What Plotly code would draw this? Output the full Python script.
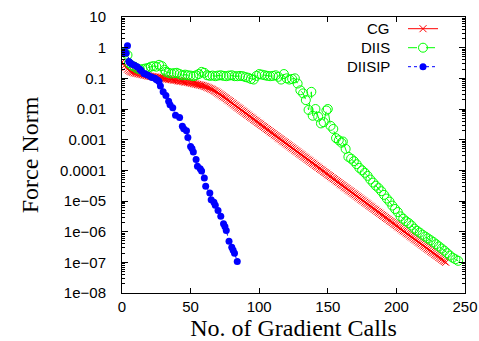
import plotly.graph_objects as go

# ---- data (log10 of force norm) ----
cg_calls = list(range(237))
cg_log10 = [
    -0.47, -0.52, -0.58, -0.64, -0.70, -0.74, -0.77, -0.79, -0.80, -0.82,
    -0.83, -0.84, -0.85, -0.86, -0.87, -0.88, -0.89, -0.90, -0.91, -0.92,
    -0.93, -0.94, -0.94, -0.95, -0.96, -0.96, -0.97, -0.98, -0.98, -0.99,
    -1.00, -1.01, -1.01, -1.02, -1.03, -1.04, -1.04, -1.05, -1.06, -1.06,
    -1.07, -1.08, -1.09, -1.09, -1.10, -1.11, -1.12, -1.12, -1.13, -1.14,
    -1.15, -1.16, -1.17, -1.18, -1.19, -1.20, -1.21, -1.22, -1.23, -1.24,
    -1.26, -1.27, -1.29, -1.31, -1.33, -1.35, -1.37, -1.40, -1.42, -1.45,
    -1.48, -1.51, -1.54, -1.57, -1.60, -1.63, -1.66, -1.70, -1.73, -1.76,
    -1.80, -1.83, -1.87, -1.90, -1.94, -1.97, -2.00, -2.04, -2.07, -2.10,
    -2.14, -2.17, -2.20, -2.24, -2.27, -2.30, -2.34, -2.37, -2.40, -2.44,
    -2.47, -2.50, -2.54, -2.57, -2.60, -2.64, -2.67, -2.70, -2.74, -2.77,
    -2.80, -2.84, -2.87, -2.90, -2.94, -2.97, -3.00, -3.04, -3.07, -3.10,
    -3.14, -3.17, -3.20, -3.24, -3.27, -3.30, -3.34, -3.37, -3.40, -3.44,
    -3.47, -3.50, -3.54, -3.57, -3.60, -3.64, -3.67, -3.70, -3.74, -3.77,
    -3.80, -3.84, -3.87, -3.90, -3.94, -3.97, -4.00, -4.04, -4.07, -4.10,
    -4.14, -4.17, -4.20, -4.24, -4.27, -4.30, -4.34, -4.37, -4.40, -4.44,
    -4.47, -4.50, -4.54, -4.57, -4.60, -4.64, -4.67, -4.70, -4.74, -4.77,
    -4.80, -4.84, -4.87, -4.90, -4.94, -4.97, -5.00, -5.04, -5.07, -5.10,
    -5.14, -5.17, -5.20, -5.24, -5.27, -5.30, -5.34, -5.37, -5.40, -5.44,
    -5.47, -5.50, -5.54, -5.57, -5.60, -5.64, -5.67, -5.70, -5.74, -5.77,
    -5.80, -5.84, -5.87, -5.90, -5.94, -5.97, -6.00, -6.04, -6.07, -6.10,
    -6.14, -6.17, -6.20, -6.24, -6.27, -6.30, -6.34, -6.37, -6.40, -6.44,
    -6.47, -6.50, -6.54, -6.57, -6.60, -6.64, -6.67, -6.70, -6.74, -6.77,
    -6.80, -6.84, -6.87, -6.90, -6.94, -6.97, -7.00,
]

diis_calls = [
    0, 2, 4, 5, 7, 9, 11, 13, 15, 17, 19, 21, 23, 25, 27, 29, 31, 32, 34, 36,
    38, 40, 42, 44, 46, 48, 50, 52, 54, 56, 58, 60, 62, 64, 66, 68, 70, 72, 74, 76,
    78, 80, 82, 84, 86, 88, 90, 92, 94, 96, 98, 100, 102, 104, 106, 108, 110, 112, 114, 116,
    118, 120, 122, 124, 126, 128, 130, 132, 134, 136, 138, 139, 141, 143, 145, 147, 149, 150, 152, 154,
    156, 158, 160, 161, 163, 165, 167, 169, 171, 173, 175, 177, 179, 181, 183, 185, 187, 189, 191, 193,
    195, 197, 199, 201, 203, 205, 207, 209, 211, 213, 215, 217, 219, 221, 223, 225, 227, 229, 231, 233,
    235, 237, 239, 241, 243, 245,
]
diis_log10 = [
    -0.14, -0.16, -0.24, -0.50, -0.58, -0.62, -0.68, -0.71, -0.70, -0.68,
    -0.66, -0.62, -0.60, -0.62, -0.56, -0.60, -0.72, -0.79, -0.82, -0.84,
    -0.83, -0.82, -0.86, -0.90, -0.88, -0.90, -0.91, -0.93, -0.90, -0.86,
    -0.79, -0.82, -0.90, -0.92, -0.91, -0.93, -0.91, -0.90, -0.92, -0.93,
    -0.91, -0.90, -0.93, -0.93, -0.92, -0.93, -0.96, -0.98, -1.02, -1.04,
    -0.92, -0.86, -0.88, -0.90, -0.92, -0.93, -0.92, -0.90, -0.95, -1.04,
    -0.86, -1.00, -1.04, -1.02, -1.00, -1.17, -1.39, -1.49, -1.71, -2.03,
    -1.44, -2.22, -2.00, -2.25, -2.47, -2.43, -2.05, -2.00, -2.55, -2.65,
    -2.95, -3.02, -3.10, -3.06, -3.30, -3.56, -3.62, -3.70, -3.80, -3.92,
    -4.00, -4.08, -4.18, -4.30, -4.40, -4.50, -4.58, -4.68, -4.80, -4.92,
    -5.02, -5.15, -5.26, -5.36, -5.50, -5.58, -5.66, -5.72, -5.80, -5.90,
    -5.97, -6.03, -6.10, -6.16, -6.22, -6.28, -6.34, -6.41, -6.48, -6.55,
    -6.62, -6.70, -6.78, -6.85, -6.90, -6.95,
]

diisip_calls = [
    0, 1, 2, 3, 4, 5, 6, 7, 9, 11, 13, 14, 16, 17, 19, 21, 22, 24, 25, 26,
    27, 28, 30, 32, 34, 35, 37, 39, 42, 44, 45, 47, 48, 50, 51, 52, 54, 55, 57, 58,
    60, 61, 64, 65, 67, 68, 70, 72, 74, 75, 76, 78, 80, 81, 82, 84,
]
diisip_log10 = [
    -0.14, -0.16, -0.13, -0.18, 0.06, -0.45, -0.50, -0.53, -0.57, -0.62,
    -0.70, -0.75, -0.84, -0.86, -0.90, -0.95, -0.97, -1.00, -1.04, -1.06,
    -1.10, -1.25, -1.44, -1.56, -1.75, -1.86, -1.96, -2.20, -2.28, -2.56,
    -2.64, -2.71, -2.93, -3.22, -3.29, -3.40, -3.65, -3.87, -3.95, -4.02,
    -4.25, -4.52, -4.74, -4.96, -5.04, -5.14, -5.31, -5.50, -5.74, -5.83,
    -5.96, -6.31, -6.51, -6.61, -6.70, -6.97,
]

series_names = ["CG", "DIIS", "DIISIP"]
y_tick_vals = [1e-8, 1e-7, 1e-6, 1e-5, 1e-4, 1e-3, 1e-2, 1e-1, 1, 10]
y_tick_text = ["1e\u221208", "1e\u221207", "1e\u221206", "1e\u221205", "0.0001",
               "0.001", "0.01", "0.1", "1", "10"]
x_tick_vals = [0, 50, 100, 150, 200, 250]


def to_lin(vals):
    return [10 ** v for v in vals]


fig = go.Figure()
fig.add_trace(go.Scatter(
    x=cg_calls, y=to_lin(cg_log10), mode="lines+markers", name="",
    line=dict(color="#ff0000", width=1),
    marker=dict(symbol="x-thin", size=7, line=dict(color="#ff0000", width=1)),
))
fig.add_trace(go.Scatter(
    x=diis_calls, y=to_lin(diis_log10), mode="lines+markers", name="",
    line=dict(color="#00ff00", width=1, dash="dash"),
    marker=dict(symbol="circle-open", size=9, color="#00ff00", line=dict(color="#00ff00", width=1)),
))
fig.add_trace(go.Scatter(
    x=diisip_calls, y=to_lin(diisip_log10), mode="lines+markers", name="",
    line=dict(color="#0000ff", width=1, dash="dot"),
    marker=dict(symbol="circle", size=7, color="#0000ff"),
))

W, H = 479, 341
ML, MR, MT, MB = 122, 14, 17, 48
pw, ph = W - ML - MR, H - MT - MB

tick_font = dict(family="Liberation Sans, Arial, sans-serif", size=15, color="black")
title_font = dict(family="Liberation Serif, Times New Roman, serif", size=24, color="black")

# legend rows (plotly item height 19 px)
row_px = [28.7, 47.7, 66.7]
annotations = []
for name, py in zip(series_names, row_px):
    annotations.append(dict(
        text=name, xref="paper", yref="paper", x=(392 - ML) / pw, y=1 - (py - MT) / ph,
        xanchor="right", yanchor="middle", showarrow=False, font=tick_font,
    ))

fig.update_layout(
    width=W, height=H,
    margin=dict(l=ML, r=MR, t=MT, b=MB, pad=0, autoexpand=False),
    paper_bgcolor="white", plot_bgcolor="white",
    showlegend=True,
    legend=dict(
        x=(403 - ML) / pw, xanchor="left", y=1 + (MT - 14.2) / ph, yanchor="top",
        bgcolor="rgba(0,0,0,0)", borderwidth=0, font=dict(size=10),
    ),
    annotations=annotations,
    xaxis=dict(
        range=[0, 250], tickvals=x_tick_vals, ticks="inside", ticklen=5,
        tickcolor="black", tickwidth=1, showline=True, linecolor="black", linewidth=1,
        mirror="ticks", showgrid=False, zeroline=False, tickfont=tick_font,
        ticklabelstandoff=0, automargin=False,
        title=dict(text="No. of Gradient Calls", font=title_font, standoff=6),
    ),
    yaxis=dict(
        type="log", range=[-8, 1], tickvals=y_tick_vals, ticktext=y_tick_text,
        ticks="inside", ticklen=6, tickcolor="black", tickwidth=1,
        showline=True, linecolor="black", linewidth=1, mirror="allticks",
        showgrid=False, zeroline=False, tickfont=tick_font, ticklabelstandoff=12,
        automargin=False,
        minor=dict(ticks="inside", ticklen=3, tickcolor="black", dtick="D1", showgrid=False),
        title=dict(text="Force Norm", font=title_font, standoff=14),
    ),
)

fig.write_html("out.html")
